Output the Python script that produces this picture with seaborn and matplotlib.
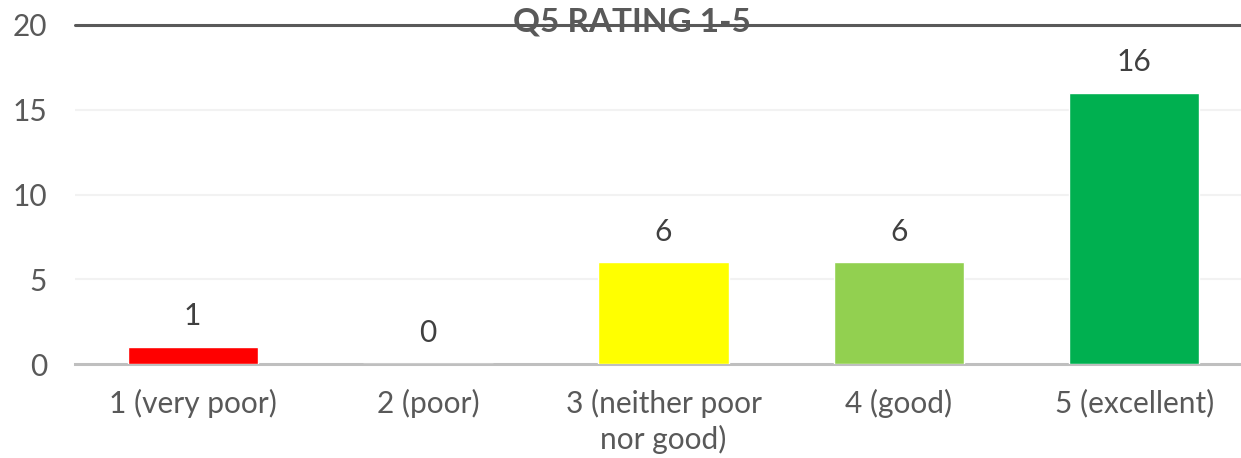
import matplotlib
matplotlib.use("Agg")
import matplotlib.pyplot as plt
import seaborn as sns
import pandas as pd

categories = ["1 (very poor)", "2 (poor)", "3 (neither poor\nnor good)", "4 (good)", "5 (excellent)"]
counts = [1, 0, 6, 6, 16]
bar_colors = ["#FF0000", "#FFC000", "#FFFF00", "#92D050", "#00B050"]
yticks = [0, 5, 10, 15, 20]
title = "Q5 RATING 1-5"

sns.set_theme(style="white")
plt.rcParams["font.family"] = ["Lato", "DejaVu Sans"]

df = pd.DataFrame({"cat": categories, "n": counts})

fig = plt.figure(figsize=(12.41, 4.58), dpi=100)
ax = fig.add_axes([75 / 1241, 1 - 364 / 458, 1177 / 1241, 339 / 458])

sns.barplot(data=df, x="cat", y="n", hue="cat", palette=bar_colors, legend=False,
            width=0.553, saturation=1, ax=ax, zorder=3)

ax.set_ylim(0, 20)
ax.set_xlim(-0.5, 4.5)
ax.set_yticks(yticks)
ax.set_yticklabels([str(t) for t in yticks], fontsize=21.5, color="#595959")
ax.tick_params(axis="y", length=0, pad=20)
ax.tick_params(axis="x", length=0, pad=18, labelsize=21.5, labelcolor="#595959")
for lab in ax.get_xticklabels():
    lab.set_linespacing(1.3)
    lab.set_verticalalignment("top")

for y in [5, 10, 15]:
    ax.axhline(y, color="#F2F2F2", lw=1.5, zorder=1)
ax.axhline(20, color="#595959", lw=2.2, zorder=2, clip_on=False)

for s in ["left", "right", "top"]:
    ax.spines[s].set_visible(False)
ax.spines["bottom"].set_color("#BFBFBF")
ax.spines["bottom"].set_linewidth(2.2)

ax.set_xlabel("")
ax.set_ylabel("")

for i, v in enumerate(counts):
    ax.annotate(str(v), (i, v), xytext=(0, 22), textcoords="offset points",
                ha="center", va="center", fontsize=21.5, color="#404040")

fig.text(632 / 1241, 1 - 22 / 458, title, ha="center", va="center",
         fontsize=24, fontweight="bold", color="#595959", zorder=5)

fig.savefig("out.png", dpi=100)
